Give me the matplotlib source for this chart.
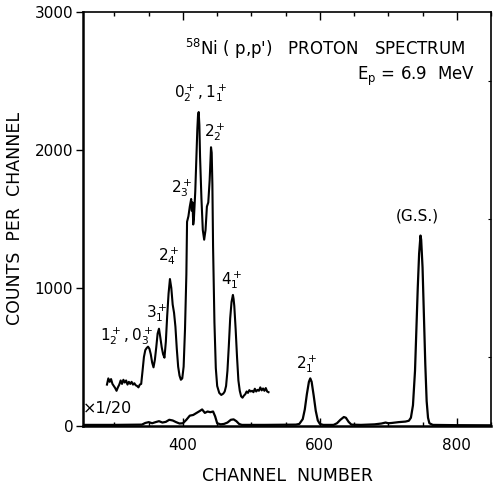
import matplotlib
matplotlib.use("Agg")
import matplotlib.pyplot as plt
from matplotlib.ticker import MultipleLocator

plt.rcParams['font.family'] = ['DejaVu Sans']
plt.rcParams['mathtext.default'] = 'regular'

# Expanded (x20) part of the spectrum
ch_hi = [289, 291, 293, 295, 297, 299, 301, 303, 305, 307, 309, 311, 313, 315, 317, 319,
         321, 323, 325, 327, 329, 331, 333, 335, 337, 339, 341, 343, 345, 347, 349, 351,
         353, 355, 357, 359, 361, 363, 365, 367, 369, 371, 373, 375, 377, 379, 381, 383,
         385, 387, 389, 391, 393, 395, 397, 399, 401, 403, 405, 406, 408, 410, 412, 413,
         414, 415, 416, 418, 420, 421, 422, 423, 424, 425, 427, 429, 431, 433, 435, 437,
         439, 441, 442, 443, 444, 446, 448, 450, 453, 456, 459, 461, 463, 465, 467, 469,
         471, 473, 474, 475, 477, 479, 481, 483, 485, 487, 489, 491, 493, 495, 497, 499,
         501, 503, 505, 507, 509, 511, 513, 515, 517, 519, 521, 523, 525]
cnt_hi = [300, 345, 320, 340, 305, 290, 275, 255, 280, 300, 330, 305, 335, 315, 330, 300,
          320, 305, 320, 300, 310, 295, 290, 280, 300, 305, 400, 500, 550, 565, 575, 560,
          520, 460, 425, 480, 570, 670, 705, 640, 570, 520, 495, 610, 800, 960, 1065, 1000,
          880, 820, 720, 560, 430, 365, 335, 345, 430, 700, 1100, 1480, 1520, 1590, 1645, 1560,
          1620, 1460, 1500, 1700, 2000, 2150, 2250, 2275, 2180, 1950, 1650, 1420, 1350, 1420,
          1590, 1620, 1780, 2020, 1980, 1750, 1300, 750, 420, 290, 240, 225, 235, 250, 290,
          400, 580, 780, 900, 950, 920, 870, 700, 500, 330, 255, 215, 205, 220, 230, 250,
          240, 260, 250, 255, 245, 270, 250, 262, 255, 280, 258, 272, 255, 275, 250, 245]

# Full spectrum (x1/20)
ch_lo = [255, 300, 340, 345, 350, 355, 360, 365, 370, 375, 380, 385, 390, 395, 400, 405,
         410, 415, 420, 425, 428, 432, 436, 440, 444, 447, 450, 455, 460, 465, 470, 474,
         478, 482, 486, 520, 565, 570, 575, 578, 581, 584, 586, 588, 591, 594, 597, 600,
         605, 620, 625, 630, 635, 638, 642, 646, 660, 680, 690, 696, 700, 705, 715, 725,
         730, 733, 736, 739, 741, 743, 745, 747, 748, 750, 752, 754, 756, 758, 760, 765,
         800, 850]
cnt_lo = [8, 8, 10, 22, 28, 20, 28, 35, 25, 30, 45, 40, 28, 18, 20, 45,
          75, 80, 95, 110, 120, 95, 105, 100, 105, 70, 20, 12, 15, 25, 45, 48,
          35, 15, 8, 8, 10, 15, 50, 120, 230, 320, 345, 320, 220, 110, 40, 15,
          8, 8, 20, 45, 65, 60, 30, 10, 8, 12, 18, 25, 20, 22, 28, 32,
          38, 60, 150, 400, 700, 1000, 1250, 1380, 1350, 1150, 800, 450, 180, 60, 20, 8,
          6, 5]

x_ticks = [400, 600, 800]
y_ticks = [0, 1000, 2000, 3000]

fig = plt.figure(figsize=(4.94, 4.84), dpi=100)
ax = fig.add_axes([83/494, 1-426/484, (491-83)/494, (426-12)/484])

ax.plot(ch_hi, cnt_hi, color='black', lw=1.5)
ax.plot(ch_lo, cnt_lo, color='black', lw=1.6)

ax.set_xlim(254, 850)
ax.set_ylim(0, 3000)

ax.set_xticks(x_ticks)
ax.set_yticks(y_ticks)
ax.xaxis.set_minor_locator(MultipleLocator(50))
ax.tick_params(axis='x', which='major', direction='in', length=6, width=1, pad=9,
               labelsize=11, top=True)
ax.tick_params(axis='x', which='minor', direction='in', length=3, width=1, top=True)
ax.tick_params(axis='y', which='major', direction='out', length=5, width=1, pad=2,
               labelsize=11)
ax.yaxis.set_minor_locator(MultipleLocator(500))
ax.tick_params(axis='y', which='minor', direction='in', length=2, width=0.8, right=True, left=False)

for s in ['left', 'bottom']:
    ax.spines[s].set_linewidth(1.8)
for s in ['top', 'right']:
    ax.spines[s].set_linewidth(1.2)

ax.set_xlabel('CHANNEL  NUMBER', fontsize=12.5, labelpad=10)
ax.set_ylabel('COUNTS  PER  CHANNEL', fontsize=12.5, labelpad=8)

ax.text(403, 2735, "$^{58}$Ni ( p,p')   PROTON   SPECTRUM", fontsize=12, ha='left', va='center')
ax.text(826, 2530, "E$_p$ = 6.9  MeV", fontsize=12, ha='right', va='center')

lab = dict(fontsize=11, ha='center', va='center')
ax.text(426, 2415, "$0^+_2 , 1^+_1$", **lab)
ax.text(447, 2130, "$2^+_2$", **lab)
ax.text(398, 1724, "$2^+_3$", **lab)
ax.text(380, 1230, "$2^+_4$", **lab)
ax.text(362, 820, "$3^+_1$", **lab)
ax.text(318, 655, "$1^+_2 , 0^+_3$", **lab)
ax.text(471, 1055, "$4^+_1$", **lab)
ax.text(581, 450, "$2^+_1$", **lab)
ax.text(743, 1520, "(G.S.)", **lab)
ax.text(290, 130, "\u00d71/20", fontsize=11.5, ha='center', va='center')

fig.savefig('out.png', dpi=100)
